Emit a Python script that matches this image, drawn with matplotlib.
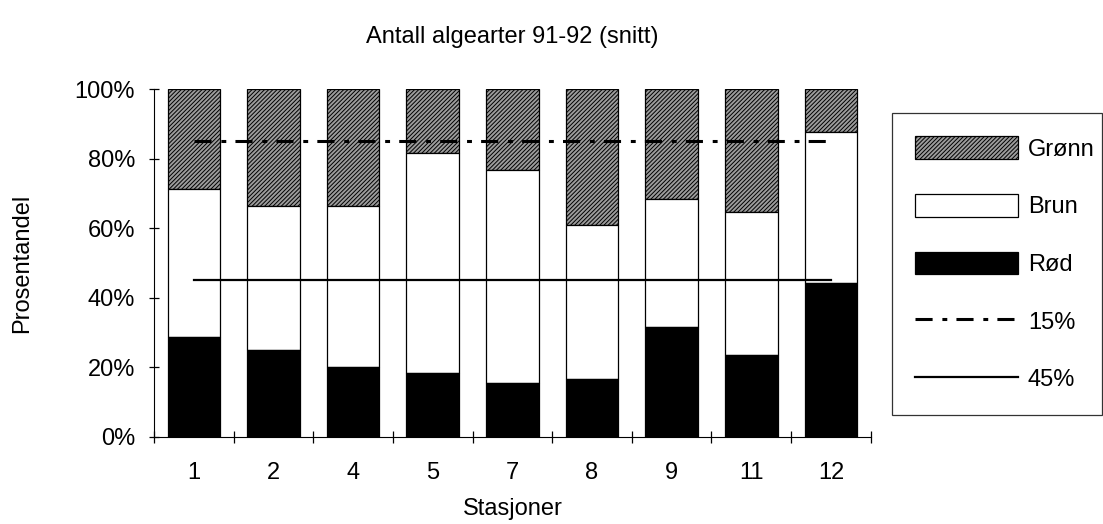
import numpy as np
import matplotlib
matplotlib.use("Agg")
import matplotlib.pyplot as plt

plt.rcParams['font.family'] = ['Liberation Sans', 'DejaVu Sans']
plt.rcParams['hatch.linewidth'] = 0.7

# data (percent per station)
stations = ["1", "2", "4", "5", "7", "8", "9", "11", "12"]
rod = [28.6, 24.9, 20.1, 18.2, 15.4, 16.6, 31.7, 23.6, 44.2]
brun = [42.6, 41.6, 46.4, 63.5, 61.5, 44.4, 36.7, 41.0, 43.6]
gronn = [28.8, 33.5, 33.5, 18.3, 23.1, 39.0, 31.6, 35.4, 12.2]
limit_15 = [85] * len(stations)
limit_45 = [45] * len(stations)

FS = 17

fig = plt.figure(figsize=(11.03, 5.24), dpi=100)
ax = fig.add_axes([0.1396, 0.1666, 0.6498, 0.663])

x = np.arange(len(stations))
w = 0.66
bottom_brun = np.array(rod)
bottom_gronn = bottom_brun + np.array(brun)

b1 = ax.bar(x, gronn, w, bottom=bottom_gronn, facecolor="#9c9c9c", edgecolor="black",
            hatch="////////", linewidth=0.9, label="Grønn")
b2 = ax.bar(x, brun, w, bottom=bottom_brun, facecolor="white", edgecolor="black",
            linewidth=0.9, label="Brun")
b3 = ax.bar(x, rod, w, facecolor="black", edgecolor="black", linewidth=0.9, label="Rød")

l1, = ax.plot(x, limit_15, color="black", lw=2.2, linestyle=(0, (5.6, 3.2, 1.6, 3.0)), label="15%")
l2, = ax.plot(x, limit_45, color="black", lw=1.6, label="45%")

ax.set_xlim(-0.5, len(stations) - 0.5)
ax.set_ylim(0, 100)
ax.spines["top"].set_visible(False)
ax.spines["right"].set_visible(False)

ax.set_yticks([0, 20, 40, 60, 80, 100])
ax.set_yticklabels([f"{v}%" for v in [0, 20, 40, 60, 80, 100]], fontsize=FS)
ax.tick_params(axis="y", direction="inout", length=7, width=0.9, pad=10)

ax.set_xticks(x)
ax.set_xticklabels(stations, fontsize=FS)
ax.set_xticks(np.arange(len(stations) + 1) - 0.5, minor=True)
ax.tick_params(axis="x", which="major", length=0, pad=18)
ax.tick_params(axis="x", which="minor", direction="inout", length=8, width=0.9)

ax.set_title("Antall algearter 91-92 (snitt)", fontsize=FS, pad=33)
ax.set_xlabel("Stasjoner", fontsize=FS, labelpad=10)
ax.set_ylabel("Prosentandel", fontsize=FS, labelpad=30)

leg = fig.legend([b1, b2, b3, l1, l2], ["Grønn", "Brun", "Rød", "15%", "45%"],
                 loc="upper left",
                 bbox_to_anchor=(892 / 1103, 1 - 113 / 524, 210 / 1103, 0.0),
                 mode="expand", borderaxespad=0, fontsize=FS, frameon=True,
                 fancybox=False, handlelength=4.36, handleheight=1.1,
                 labelspacing=1.41, borderpad=0.99, handletextpad=0.4)
leg.get_frame().set_edgecolor("black")
leg.get_frame().set_linewidth(0.9)

fig.savefig("out.png", dpi=100)
